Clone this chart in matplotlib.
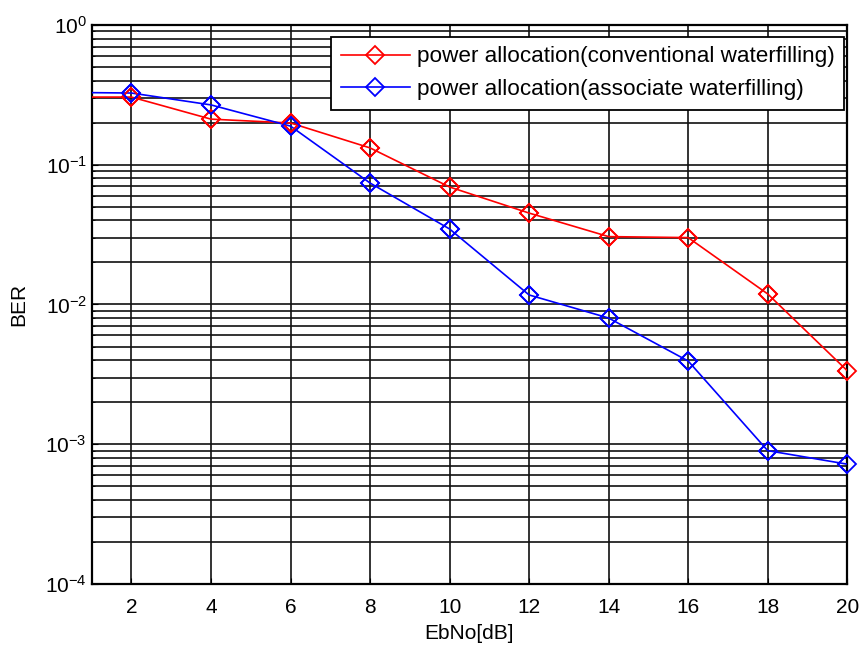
import matplotlib
matplotlib.use("Agg")
import matplotlib.pyplot as plt
import numpy as np

plt.rcParams['font.family'] = ['Liberation Sans', 'DejaVu Sans']
plt.rcParams['mathtext.fontset'] = 'custom'
plt.rcParams['mathtext.rm'] = 'Liberation Sans'
plt.rcParams['mathtext.it'] = 'Liberation Sans'

ebno = [0, 2, 4, 6, 8, 10, 12, 14, 16, 18, 20]
ber_conv = [0.305, 0.305, 0.212, 0.199, 0.132, 0.0693, 0.0451, 0.0306, 0.0301, 0.0119, 0.00336]
ber_assoc = [0.33, 0.326, 0.268, 0.189, 0.074, 0.0347, 0.0117, 0.0080, 0.00394, 0.00090, 0.00072]
labels = ['power allocation(conventional waterfilling)',
          'power allocation(associate waterfilling)']
xticks = [2, 4, 6, 8, 10, 12, 14, 16, 18, 20]

fig = plt.figure(figsize=(8.61, 6.46), dpi=100)
ax = fig.add_axes([0.1065, 0.096, 0.8775, 0.8653])

mk = dict(marker='D', markersize=9.5, markerfacecolor='none', markeredgewidth=1.3)
for y, c, lab in [(ber_conv, 'red', labels[0]), (ber_assoc, 'blue', labels[1])]:
    ax.semilogy(ebno, y, color=c, linewidth=1.2, label=lab, zorder=3,
                markevery=list(range(1, len(ebno))), **mk)
    # unclipped overlay so edge markers are drawn whole
    ax.semilogy(ebno, y, color=c, linestyle='none', zorder=4, clip_on=False,
                markevery=list(range(1, len(ebno))), **mk)

ax.set_xlim(1, 20)
ax.set_ylim(1e-4, 1)
ax.set_xticks(xticks)
ax.grid(True, which='major', color='#111111', linewidth=1.2)
ax.grid(True, which='minor', axis='y', color='#111111', linewidth=1.2)
ax.set_axisbelow(True)
for s in ax.spines.values():
    s.set_linewidth(1.6)
ax.tick_params(axis='both', which='both', direction='in', labelsize=15, length=4)
ax.tick_params(axis='y', which='minor', length=2)
ax.tick_params(axis='x', pad=10)
ax.set_xlabel('EbNo[dB]', fontsize=15, labelpad=5)
ax.set_ylabel('BER', fontsize=15, labelpad=12)

leg = ax.legend(loc='upper right', bbox_to_anchor=(0.996, 0.9785), borderaxespad=0,
                fontsize=16.2, fancybox=False, framealpha=1, edgecolor='black',
                handlelength=3.1, labelspacing=0.52, borderpad=0.42, handletextpad=0.3)
leg.get_frame().set_linewidth(1.3)

fig.savefig('out.png', dpi=100)
